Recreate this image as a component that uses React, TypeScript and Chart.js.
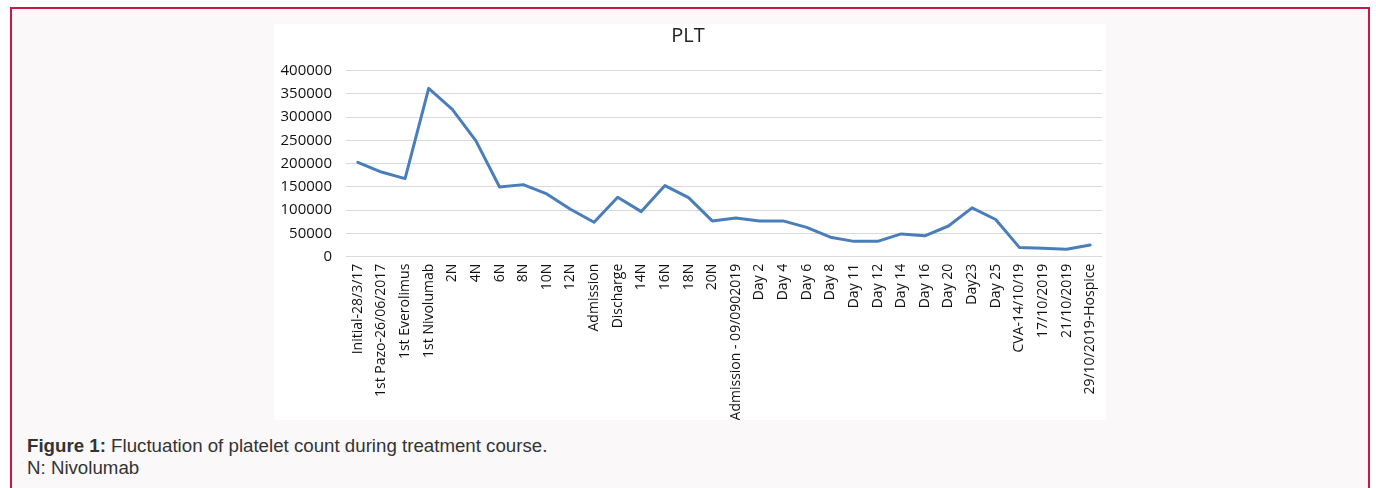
import React, { useEffect, useRef } from "react";
import { Chart, registerables } from "chart.js";

Chart.register(...registerables);

const categories: string[] = [
  "Initial-28/3/17",
  "1st Pazo-26/06/2017",
  "1st Everolimus",
  "1st Nivolumab",
  "2N",
  "4N",
  "6N",
  "8N",
  "10N",
  "12N",
  "Admission",
  "Discharge",
  "14N",
  "16N",
  "18N",
  "20N",
  "Admission - 09/0902019",
  "Day 2",
  "Day 4",
  "Day 6",
  "Day 8",
  "Day 11",
  "Day 12",
  "Day 14",
  "Day 16",
  "Day 20",
  "Day23",
  "Day 25",
  "CVA-14/10/19",
  "17/10/2019",
  "21/10/2019",
  "29/10/2019-Hospice",
];

const pltValues: number[] = [
  203000, 182000, 168000, 362000, 317000, 249000, 150000, 155000, 135000,
  102000, 74000, 128000, 97000, 153000, 127000, 77000, 83000, 77000, 77000,
  63000, 42000, 33000, 33000, 49000, 45000, 66000, 105000, 80000, 20000,
  18000, 16000, 25000,
];

const yMin = 0;
const yMax = 400000;
const yStep = 50000;

const chartTitle = "PLT";

export default function App() {
  const canvasRef = useRef<HTMLCanvasElement | null>(null);

  useEffect(() => {
    if (!canvasRef.current) return;
    const chart = new Chart(canvasRef.current, {
      type: "line",
      data: {
        labels: categories,
        datasets: [
          {
            label: chartTitle,
            data: pltValues,
            borderColor: "#4a7ebb",
            backgroundColor: "#4a7ebb",
            borderWidth: 3,
            pointRadius: 0,
            tension: 0,
            borderJoinStyle: "round",
            borderCapStyle: "round",
          },
        ],
      },
      options: {
        responsive: false,
        animation: false,
        layout: { padding: { left: 0, right: 4, top: 0, bottom: 0 } },
        plugins: {
          legend: { display: false },
          tooltip: { enabled: false },
          title: {
            display: true,
            text: chartTitle,
            color: "#222",
            font: { family: "'Open Sans', sans-serif", size: 20, weight: "normal" },
            padding: { top: 0, bottom: 22.7 },
          },
        },
        scales: {
          x: {
            offset: true,
            grid: { display: false, drawTicks: false },
            border: { display: false },
            ticks: {
              autoSkip: false,
              minRotation: 90,
              maxRotation: 90,
              padding: 7,
              color: "#111",
              font: {
                family: "'Liberation Sans Narrow', 'Arial Narrow', 'Open Sans', sans-serif",
                size: 14,
              },
            },
            afterFit: (scale: any) => {
              scale.height = 163.3;
              scale.paddingLeft = 0;
              scale.paddingRight = 0;
            },
          },
          y: {
            min: yMin,
            max: yMax,
            grid: { color: "#d9d9d9", lineWidth: 1, drawTicks: false },
            border: { display: false },
            ticks: {
              stepSize: yStep,
              padding: 14,
              color: "#111",
              font: { family: "'Open Sans', sans-serif", size: 15 },
              callback: (v: any) => String(v),
            },
            afterFit: (scale: any) => {
              scale.width = 72;
            },
          },
        },
      },
    });
    return () => chart.destroy();
  }, []);

  return (
    <div
      style={{
        position: "fixed",
        left: 0,
        top: 0,
        width: 1376,
        height: 488,
        background: "#ffffff",
        overflow: "hidden",
      }}
    >
      <div
        style={{
          position: "absolute",
          left: 10,
          top: 7,
          width: 1356,
          height: 500,
          background: "#faf8f9",
          border: "2px solid #c8184a",
          borderBottom: "none",
        }}
      />
      <div
        style={{
          position: "absolute",
          left: 274,
          top: 24,
          width: 832,
          height: 396,
          background: "#ffffff",
        }}
      >
        <canvas ref={canvasRef} width={832} height={396} style={{ display: "block" }} />
      </div>
      <div
        style={{
          position: "absolute",
          left: 27,
          top: 435,
          fontFamily: "'Liberation Sans', Arial, sans-serif",
          fontSize: 18.7,
          lineHeight: "22px",
          color: "#333",
        }}
      >
        <div>
          <b>Figure 1:</b> Fluctuation of platelet count during treatment course.
        </div>
        <div>N: Nivolumab</div>
      </div>
    </div>
  );
}
